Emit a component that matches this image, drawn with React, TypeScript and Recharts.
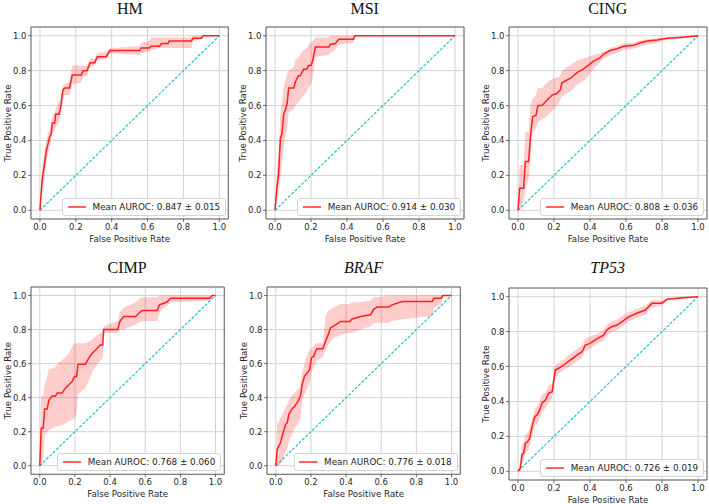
import React from 'react';
import { ComposedChart, Area, Line, XAxis, YAxis, CartesianGrid, ReferenceLine, ReferenceArea } from 'recharts';

// tick values shared by every panel
const axisTicks = [0, 0.2, 0.4, 0.6, 0.8, 1.0];

const titles = ['HM', 'MSI', 'CING', 'CIMP', 'BRAF', 'TP53'];
const italicTitles = [false, false, false, false, true, true];
const aurocMeans = ['0.847', '0.914', '0.808', '0.768', '0.776', '0.726'];
const aurocStds = ['0.015', '0.030', '0.036', '0.060', '0.018', '0.019'];

// HM
const hmFpr = [0, 0.011, 0.017, 0.026, 0.035, 0.045, 0.054, 0.063, 0.069, 0.082, 0.087, 0.106, 0.115, 0.128, 0.138, 0.165, 0.18, 0.23, 0.24, 0.262, 0.28, 0.305, 0.32, 0.37, 0.39, 0.556, 0.565, 0.61, 0.62, 0.667, 0.677, 0.714, 0.72, 0.844, 0.853, 0.9, 0.909, 1];
const hmTpr = [0, 0.16, 0.21, 0.27, 0.34, 0.38, 0.42, 0.44, 0.5, 0.5, 0.55, 0.55, 0.59, 0.69, 0.7, 0.7, 0.775, 0.775, 0.8, 0.8, 0.845, 0.845, 0.88, 0.88, 0.915, 0.915, 0.93, 0.93, 0.94, 0.94, 0.955, 0.955, 0.97, 0.97, 0.985, 0.985, 1, 1];
const hmLow = [0, 0.1, 0.14, 0.19, 0.27, 0.32, 0.36, 0.4, 0.44, 0.46, 0.48, 0.5, 0.55, 0.63, 0.66, 0.66, 0.72, 0.73, 0.76, 0.77, 0.82, 0.83, 0.86, 0.87, 0.9, 0.89, 0.9, 0.91, 0.92, 0.93, 0.93, 0.93, 0.93, 0.93, 0.97, 0.98, 1, 1];
const hmHigh = [0, 0.22, 0.27, 0.33, 0.4, 0.44, 0.47, 0.5, 0.54, 0.56, 0.58, 0.62, 0.63, 0.72, 0.72, 0.74, 0.83, 0.83, 0.83, 0.83, 0.87, 0.87, 0.9, 0.91, 0.93, 0.94, 0.96, 0.97, 0.99, 0.99, 0.99, 0.99, 0.99, 0.99, 1, 1, 1, 1];

// MSI
const msiFpr = [0, 0.011, 0.02, 0.03, 0.039, 0.048, 0.057, 0.067, 0.076, 0.104, 0.113, 0.13, 0.14, 0.16, 0.178, 0.187, 0.2, 0.21, 0.224, 0.3, 0.307, 0.335, 0.354, 0.437, 0.443, 1];
const msiTpr = [0, 0.135, 0.21, 0.41, 0.44, 0.55, 0.575, 0.61, 0.7, 0.7, 0.735, 0.77, 0.77, 0.81, 0.81, 0.83, 0.83, 0.86, 0.935, 0.935, 0.95, 0.955, 0.98, 0.98, 1, 1];
const msiLow = [0, 0.05, 0.1, 0.2, 0.26, 0.36, 0.42, 0.47, 0.56, 0.58, 0.6, 0.62, 0.63, 0.66, 0.68, 0.7, 0.72, 0.76, 0.88, 0.89, 0.9, 0.92, 0.95, 0.96, 1, 1];
const msiHigh = [0, 0.22, 0.32, 0.55, 0.62, 0.7, 0.74, 0.78, 0.8, 0.82, 0.86, 0.88, 0.89, 0.92, 0.93, 0.95, 0.96, 0.97, 0.99, 0.99, 1, 1, 1, 1, 1, 1];

// CING
const cingFpr = [0, 0.009, 0.031, 0.041, 0.059, 0.069, 0.081, 0.1, 0.111, 0.133, 0.152, 0.17, 0.19, 0.217, 0.235, 0.244, 0.27, 0.29, 0.33, 0.365, 0.39, 0.42, 0.457, 0.476, 0.513, 0.55, 0.587, 0.643, 0.68, 0.717, 0.772, 0.828, 0.9, 0.957, 1];
const cingTpr = [0, 0.126, 0.126, 0.28, 0.28, 0.42, 0.535, 0.545, 0.6, 0.6, 0.62, 0.64, 0.66, 0.67, 0.69, 0.73, 0.745, 0.755, 0.79, 0.81, 0.83, 0.855, 0.875, 0.895, 0.915, 0.925, 0.94, 0.945, 0.96, 0.97, 0.975, 0.985, 0.99, 0.995, 1];
const cingLow = [0, 0, 0.05, 0.12, 0.18, 0.3, 0.44, 0.47, 0.5, 0.52, 0.53, 0.55, 0.57, 0.6, 0.63, 0.65, 0.67, 0.68, 0.72, 0.74, 0.77, 0.81, 0.85, 0.87, 0.89, 0.9, 0.92, 0.925, 0.94, 0.95, 0.96, 0.975, 0.985, 0.99, 1];
const cingHigh = [0, 0.26, 0.26, 0.45, 0.45, 0.6, 0.64, 0.66, 0.7, 0.7, 0.72, 0.74, 0.75, 0.76, 0.77, 0.8, 0.82, 0.83, 0.86, 0.87, 0.88, 0.89, 0.9, 0.91, 0.93, 0.94, 0.955, 0.96, 0.975, 0.98, 0.985, 0.99, 0.995, 1, 1];

// CIMP
const cimpFpr = [0, 0.008, 0.019, 0.028, 0.042, 0.051, 0.07, 0.089, 0.1, 0.127, 0.146, 0.165, 0.184, 0.197, 0.209, 0.218, 0.26, 0.279, 0.298, 0.317, 0.345, 0.358, 0.364, 0.444, 0.455, 0.478, 0.545, 0.564, 0.583, 0.668, 0.681, 0.706, 0.725, 0.744, 0.968, 0.981, 1];
const cimpTpr = [0, 0.22, 0.22, 0.333, 0.333, 0.384, 0.41, 0.41, 0.427, 0.427, 0.456, 0.476, 0.495, 0.524, 0.524, 0.597, 0.597, 0.632, 0.661, 0.68, 0.71, 0.71, 0.8, 0.8, 0.847, 0.877, 0.877, 0.896, 0.912, 0.912, 0.945, 0.955, 0.963, 0.984, 0.984, 1, 1];
const cimpLow = [0, 0, 0.05, 0.18, 0.2, 0.21, 0.22, 0.23, 0.23, 0.24, 0.25, 0.26, 0.27, 0.28, 0.3, 0.42, 0.46, 0.5, 0.55, 0.58, 0.62, 0.63, 0.78, 0.78, 0.8, 0.8, 0.83, 0.84, 0.85, 0.85, 0.9, 0.93, 0.94, 0.96, 0.97, 1, 1];
const cimpHigh = [0, 0.41, 0.41, 0.48, 0.52, 0.57, 0.57, 0.58, 0.6, 0.62, 0.64, 0.66, 0.7, 0.72, 0.72, 0.72, 0.72, 0.73, 0.74, 0.76, 0.78, 0.79, 0.82, 0.85, 0.9, 0.93, 0.96, 0.98, 0.99, 0.99, 1, 1, 1, 1, 1, 1, 1];

// BRAF
const brafFpr = [0, 0.008, 0.017, 0.027, 0.036, 0.055, 0.065, 0.074, 0.089, 0.108, 0.127, 0.14, 0.15, 0.163, 0.178, 0.192, 0.203, 0.216, 0.226, 0.235, 0.268, 0.283, 0.298, 0.311, 0.33, 0.349, 0.368, 0.421, 0.435, 0.482, 0.539, 0.558, 0.577, 0.643, 0.662, 0.719, 0.89, 0.9, 0.943, 0.95, 1];
const brafTpr = [0, 0.096, 0.115, 0.135, 0.174, 0.242, 0.252, 0.3, 0.33, 0.35, 0.379, 0.408, 0.477, 0.525, 0.545, 0.564, 0.633, 0.643, 0.672, 0.688, 0.688, 0.73, 0.77, 0.809, 0.822, 0.834, 0.848, 0.848, 0.862, 0.877, 0.887, 0.92, 0.932, 0.932, 0.945, 0.965, 0.965, 0.984, 0.984, 1, 1];
const brafLow = [0, 0, 0, 0.01, 0.02, 0.08, 0.1, 0.14, 0.18, 0.22, 0.25, 0.28, 0.38, 0.42, 0.45, 0.48, 0.55, 0.58, 0.6, 0.62, 0.64, 0.68, 0.71, 0.73, 0.75, 0.76, 0.77, 0.78, 0.78, 0.8, 0.82, 0.84, 0.84, 0.84, 0.85, 0.86, 0.88, 0.93, 0.95, 1, 1];
const brafHigh = [0, 0.25, 0.26, 0.28, 0.3, 0.34, 0.36, 0.38, 0.41, 0.43, 0.45, 0.47, 0.55, 0.6, 0.65, 0.68, 0.69, 0.7, 0.72, 0.72, 0.72, 0.88, 0.91, 0.92, 0.93, 0.94, 0.95, 0.95, 0.96, 0.96, 0.97, 0.99, 0.99, 1, 1, 1, 1, 1, 1, 1, 1];

// TP53
const tp53Fpr = [0, 0.013, 0.022, 0.031, 0.041, 0.054, 0.065, 0.078, 0.093, 0.106, 0.12, 0.133, 0.152, 0.17, 0.19, 0.198, 0.207, 0.226, 0.254, 0.29, 0.328, 0.356, 0.374, 0.4, 0.44, 0.476, 0.494, 0.52, 0.55, 0.578, 0.615, 0.66, 0.707, 0.744, 0.8, 0.828, 0.92, 1];
const tp53Tpr = [0, 0.017, 0.094, 0.103, 0.16, 0.17, 0.19, 0.256, 0.313, 0.323, 0.35, 0.39, 0.408, 0.447, 0.456, 0.513, 0.58, 0.59, 0.609, 0.637, 0.666, 0.685, 0.723, 0.733, 0.76, 0.78, 0.81, 0.828, 0.838, 0.857, 0.885, 0.905, 0.924, 0.962, 0.962, 0.985, 0.994, 1];
const tp53Low = [0, 0, 0.04, 0.06, 0.1, 0.12, 0.14, 0.2, 0.26, 0.27, 0.3, 0.34, 0.36, 0.4, 0.42, 0.46, 0.54, 0.56, 0.58, 0.6, 0.63, 0.65, 0.69, 0.7, 0.73, 0.75, 0.78, 0.8, 0.81, 0.83, 0.86, 0.88, 0.9, 0.94, 0.95, 0.98, 0.99, 1];
const tp53High = [0, 0.05, 0.15, 0.16, 0.21, 0.22, 0.25, 0.3, 0.36, 0.37, 0.4, 0.44, 0.45, 0.49, 0.5, 0.56, 0.61, 0.62, 0.64, 0.67, 0.7, 0.72, 0.76, 0.77, 0.79, 0.81, 0.84, 0.86, 0.87, 0.89, 0.91, 0.93, 0.95, 0.98, 0.98, 0.99, 1, 1];

const series = [
  [hmFpr, hmTpr, hmLow, hmHigh],
  [msiFpr, msiTpr, msiLow, msiHigh],
  [cingFpr, cingTpr, cingLow, cingHigh],
  [cimpFpr, cimpTpr, cimpLow, cimpHigh],
  [brafFpr, brafTpr, brafLow, brafHigh],
  [tp53Fpr, tp53Tpr, tp53Low, tp53High],
];

// where each axes frame sits on the page (left, top, width, height)
const frames = [
  [31.3, 27, 197.3, 192],
  [265.7, 27, 198, 192],
  [508.7, 27, 198, 192],
  [30.5, 287.2, 193.3, 187.3],
  [266.8, 287.2, 193.3, 187.3],
  [508.7, 288, 198, 192],
];
// top of each title's text box
const titleTops = [0, 0, 0, 258.7, 258.7, 258.7];

const Y_AXIS_W = 32;
const X_AXIS_H = 24;
const MARGIN = { top: 1, right: 2, left: 0, bottom: 0 };
const fmt = (v: number) => v.toFixed(1);
const tickStyle = { fill: '#262626', fontSize: 8.5 };
const labelStyle = { fill: '#262626', fontSize: 8.7 };

function RocPanel({ idx }: { idx: number }) {
  const [fpr, tpr, lo, hi] = series[idx];
  const [fl, ft, fw, fh] = frames[idx];
  const data = fpr.map((x, i) => ({ fpr: x, tpr: tpr[i], band: [lo[i], hi[i]] }));
  const width = Y_AXIS_W + fw + MARGIN.right;
  const height = MARGIN.top + fh + X_AXIS_H + 2;

  return (
    <>
      <div
        style={{
          position: 'absolute',
          left: fl,
          width: fw,
          top: titleTops[idx],
          textAlign: 'center',
          fontFamily: 'Liberation Serif',
          fontStyle: italicTitles[idx] ? 'italic' : 'normal',
          fontSize: 16,
          lineHeight: 'normal',
          color: '#111',
          whiteSpace: 'nowrap',
        }}
      >
        {titles[idx]}
      </div>
      <div style={{ position: 'absolute', left: fl - Y_AXIS_W, top: ft - MARGIN.top, width, height }}>
        <ComposedChart
          width={width}
          height={height}
          data={data}
          margin={{ ...MARGIN, bottom: 2 }}
          style={{ fontFamily: 'DejaVu Sans' }}
        >
          <CartesianGrid stroke="#d2d2d2" strokeWidth={1} />
          <XAxis
            type="number"
            dataKey="fpr"
            domain={[-0.05, 1.05]}
            ticks={axisTicks}
            tickFormatter={fmt}
            allowDataOverflow
            height={X_AXIS_H}
            axisLine={false}
            tickSize={3}
            tickMargin={1.5}
            tick={tickStyle}
            tickLine={{ stroke: '#333', strokeWidth: 0.7 }}
            label={{ value: 'False Positive Rate', position: 'insideBottom', offset: 1, ...labelStyle }}
          />
          <YAxis
            type="number"
            domain={[-0.05, 1.05]}
            ticks={axisTicks}
            tickFormatter={fmt}
            allowDataOverflow
            width={Y_AXIS_W}
            axisLine={false}
            tickSize={3}
            tickMargin={1.5}
            tick={tickStyle}
            tickLine={{ stroke: '#333', strokeWidth: 0.7 }}
            label={{
              value: 'True Positive Rate',
              angle: -90,
              position: 'insideLeft',
              offset: 9,
              ...labelStyle,
              style: { textAnchor: 'middle' },
            }}
          />
          <Area
            type="linear"
            dataKey="band"
            stroke="none"
            fill="#ff0000"
            fillOpacity={0.2}
            isAnimationActive={false}
          />
          <ReferenceLine
            segment={[{ x: 0, y: 0 }, { x: 1, y: 1 }]}
            stroke="#1ec3cb"
            strokeWidth={1.2}
            strokeDasharray="3 1.6"
          />
          <Line
            type="linear"
            dataKey="tpr"
            stroke="#ff1f1f"
            strokeWidth={1.5}
            dot={false}
            isAnimationActive={false}
          />
          <ReferenceArea x1={-0.05} x2={1.05} y1={-0.05} y2={1.05} fill="none" stroke="#5a5a5a" strokeWidth={0.9} ifOverflow="visible" />
        </ComposedChart>
        <div
          style={{
            position: 'absolute',
            right: MARGIN.right + 2.5,
            bottom: X_AXIS_H + 2 + 3,
            height: 16,
            display: 'flex',
            alignItems: 'center',
            padding: '0 5px 0 4.5px',
            border: '1px solid #d4d4d4',
            borderRadius: 3,
            background: 'rgba(255,255,255,0.85)',
            fontFamily: 'DejaVu Sans',
            fontSize: 8.8,
            color: '#222',
            whiteSpace: 'nowrap',
          }}
        >
          <svg width={18.5} height={4} style={{ marginRight: 6.5, display: 'block' }}>
            <line x1={0} y1={2} x2={18.5} y2={2} stroke="#ff3a3a" strokeWidth={1.6} />
          </svg>
          <span>
            Mean AUROC: {aurocMeans[idx]} ± {aurocStds[idx]}
          </span>
        </div>
      </div>
    </>
  );
}

export default function App() {
  return (
    <div style={{ position: 'absolute', left: 0, top: 0, width: 709, height: 504, background: '#fff', overflow: 'hidden' }}>
      {titles.map((t, i) => (
        <RocPanel key={t} idx={i} />
      ))}
    </div>
  );
}
